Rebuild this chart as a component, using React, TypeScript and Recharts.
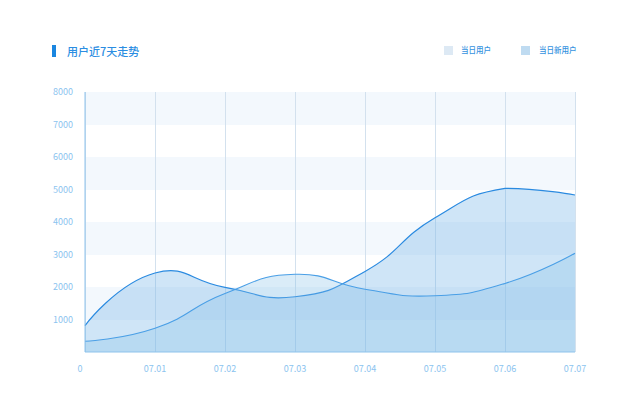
import React from 'react';
import { AreaChart, Area, XAxis, YAxis, CartesianGrid } from 'recharts';

const categories = ['0', '07.01', '07.02', '07.03', '07.04', '07.05', '07.06', '07.07'];
const dailyUsers = [810, 2430, 1990, 1700, 2480, 4130, 5035, 4830];
const dailyNewUsers = [330, 730, 1800, 2390, 1930, 1730, 2110, 3040];
const yTicks = [1000, 2000, 3000, 4000, 5000, 6000, 7000, 8000];
const seriesNames = ['当日用户', '当日新用户'];
const titleText = '用户近7天走势';

const data = categories.map((c, i) => ({ name: c, users: dailyUsers[i], newUsers: dailyNewUsers[i] }));

// ECharts-4 style smooth bezier curve (smooth = 0.5, bbox constraint)
const makeSmooth = (smooth: number) => (context: any) => {
  let xs: number[] = [];
  let ys: number[] = [];
  let line = NaN;
  return {
    areaStart() { line = 0; },
    areaEnd() { line = NaN; },
    lineStart() { xs = []; ys = []; },
    lineEnd() {
      const n = xs.length;
      if (n > 0) {
        if (line) context.lineTo(xs[0], ys[0]); else context.moveTo(xs[0], ys[0]);
        if (n === 2) {
          context.lineTo(xs[1], ys[1]);
        } else if (n > 2) {
          const minX = Math.min(...xs), maxX = Math.max(...xs);
          const minY = Math.min(...ys), maxY = Math.max(...ys);
          const cx = (v: number) => Math.max(minX, Math.min(maxX, v));
          const cy = (v: number) => Math.max(minY, Math.min(maxY, v));
          let cp0x = xs[0], cp0y = ys[0];
          for (let i = 1; i < n; i++) {
            const px = xs[i], py = ys[i];
            let cp1x = px, cp1y = py, nx = px, ny = py;
            if (i < n - 1) {
              const vx = xs[i + 1] - xs[i - 1];
              const vy = ys[i + 1] - ys[i - 1];
              const lp = Math.hypot(px - xs[i - 1], py - ys[i - 1]);
              const ln = Math.hypot(xs[i + 1] - px, ys[i + 1] - py);
              const r = lp + ln === 0 ? 0.5 : ln / (lp + ln);
              cp1x = px - vx * smooth * (1 - r);
              cp1y = py - vy * smooth * (1 - r);
              nx = px + vx * smooth * r;
              ny = py + vy * smooth * r;
            }
            context.bezierCurveTo(cx(cp0x), cy(cp0y), cx(cp1x), cy(cp1y), px, py);
            cp0x = nx; cp0y = ny;
          }
        }
      }
      if (line || (line !== 0 && n === 1)) context.closePath();
      line = 1 - line;
    },
    point(x: number, y: number) { xs.push(+x); ys.push(+y); },
  };
};

const smoothCurve = makeSmooth(0.5);

const tickColor = '#8cc4ef';
const font = '"Noto Sans CJK SC", "Noto Sans", sans-serif';

const XTick = (props: any) => {
  const { x, y, payload, index } = props;
  return (
    <text x={x + (index === 0 ? -5 : 0)} y={y} dy="0.71em" textAnchor="middle" fill={tickColor} fontSize={9} fontFamily={font}>
      {payload.value}
    </text>
  );
};

const NoLine = () => <g />;

const VLine = (props: any) => {
  const { x1, y1, y2, key } = props;
  const x = Math.round(x1) + 0.5;
  return <line key={key} x1={x} x2={x} y1={y1} y2={y2} stroke="#d3e1ee" strokeWidth={1} />;
};

export default function App() {
  return (
    <div style={{ position: 'absolute', left: 0, top: 0, width: 640, height: 410, fontFamily: font }}>
      <div style={{ position: 'absolute', left: 52, top: 45, width: 4, height: 12, background: '#1a86e0' }} />
      <div style={{ position: 'absolute', left: 67, top: 43, fontSize: 11, lineHeight: '16px', color: '#2b8de2', fontWeight: 500 }}>
        {titleText}
      </div>
      <div style={{ position: 'absolute', left: 444, top: 46, width: 9, height: 9, background: '#dde9f4' }} />
      <div style={{ position: 'absolute', left: 461, top: 44, fontSize: 7.5, lineHeight: '12px', color: '#3592e0', fontWeight: 500 }}>{seriesNames[0]}</div>
      <div style={{ position: 'absolute', left: 521, top: 46, width: 9, height: 9, background: '#bfdbf1' }} />
      <div style={{ position: 'absolute', left: 539, top: 44, fontSize: 7.5, lineHeight: '12px', color: '#3592e0', fontWeight: 500 }}>{seriesNames[1]}</div>
      <div style={{ position: 'absolute', left: 0, top: 0 }}>
        <AreaChart width={640} height={410} data={data} margin={{ top: 92, right: 65, bottom: 28, left: 0 }}>
          <CartesianGrid
            stroke="#d4e4f2"
            vertical={VLine as any}
            horizontal={NoLine as any}
            horizontalFill={['#f3f8fd', '#ffffff']}
            fillOpacity={1}
          />
          <XAxis
            dataKey="name"
            height={30}
            tickLine={false}
            tickSize={0}
            tickMargin={14}
            axisLine={{ stroke: '#8ec3ec' }}
            interval={0}
            tick={<XTick />}
          />
          <YAxis
            width={85}
            domain={[0, 8000]}
            ticks={yTicks}
            tickLine={false}
            tickSize={0}
            tickMargin={12}
            axisLine={{ stroke: '#8ec3ec' }}
            tick={{ fill: tickColor, fontSize: 9, fontFamily: font }}
          />
          <Area
            type={smoothCurve as any}
            dataKey="users"
            name={seriesNames[0]}
            stroke="#2a8ae0"
            strokeWidth={1.2}
            fill="rgb(100,170,230)"
            fillOpacity={0.31}
            isAnimationActive={false}
            dot={false}
            activeDot={false}
          />
          <Area
            type={smoothCurve as any}
            dataKey="newUsers"
            name={seriesNames[1]}
            stroke="#4a9fe6"
            strokeWidth={1.1}
            fill="rgb(131,193,231)"
            fillOpacity={0.3}
            isAnimationActive={false}
            dot={false}
            activeDot={false}
          />
        </AreaChart>
      </div>
    </div>
  );
}
